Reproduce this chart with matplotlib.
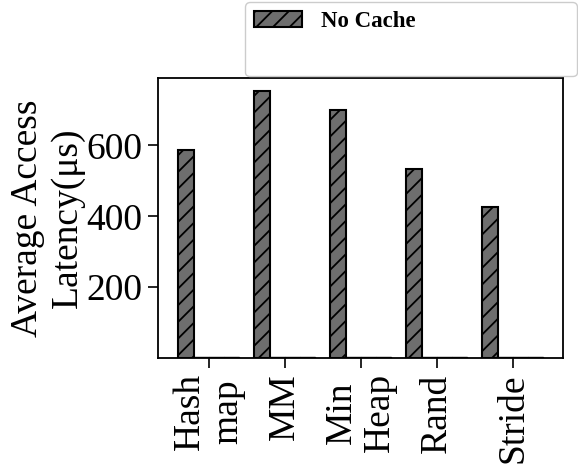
import matplotlib
import numpy as np

matplotlib.use("Agg")
import matplotlib.pyplot as plt  # noqa: E402
from matplotlib.patches import Patch  # noqa: E402

plt.rcParams.update({
    "font.family": ["Liberation Serif", "DejaVu Serif"],
    "font.size": 27,
    "hatch.linewidth": 1.3,
    "axes.linewidth": 1.3,
})

workloads = ["Hash\nmap", "MM", "Min\nHeap", "Rand", "Stride"]
no_cache = [586, 754, 701, 534, 427]
# the other three series sit near zero and are not named in the legend
other_a = [3, 3, 3, 3, 3]
other_b = [2, 2, 2, 3, 2]
other_c = [2, 2, 2, 2, 2]

fig = plt.figure(figsize=(5.78, 4.68), dpi=100)
ax = fig.add_axes([0.273, 0.235, 0.701, 0.598])

x = np.arange(len(workloads))
w = 0.2
ax.bar(x - 1.5 * w, no_cache, w, color="#6e6e6e", edgecolor="black",
       lw=1.5, hatch="//", label="No Cache")
for i, vals in enumerate([other_a, other_b, other_c]):
    ax.bar(x + (i - 0.5) * w, vals, w, color="white", edgecolor="black",
           lw=1.0)

ax.set_xlim(-0.67, 4.66)
ax.set_ylim(0, 790)
ax.set_yticks([200, 400, 600])
ax.set_xticks(x)
ax.set_xticklabels(workloads, rotation=90, linespacing=1.15)
ax.tick_params(axis="both", direction="out", length=7, width=1.2, pad=4)
ax.set_ylabel("Average Access\nLatency(μs)", linespacing=1.2, labelpad=1)

handles = [
    Patch(facecolor="#6e6e6e", edgecolor="black", hatch="//", lw=1.5),
    Patch(facecolor="none", edgecolor="none"),
]
fig.legend(handles, ["No Cache", " "], loc="upper left",
           bbox_to_anchor=(245 / 578, 1 - 2 / 468, 332 / 578, 0.0),
           mode="expand", ncol=1, fancybox=True, framealpha=1,
           edgecolor="#cccccc", handlelength=2.1, handleheight=0.7,
           handletextpad=0.8, borderaxespad=0,
           prop={"family": "Liberation Serif", "weight": "bold",
                 "size": 16.5},
           labelspacing=0.6, borderpad=0.4)

fig.savefig("out.png", dpi=100)
